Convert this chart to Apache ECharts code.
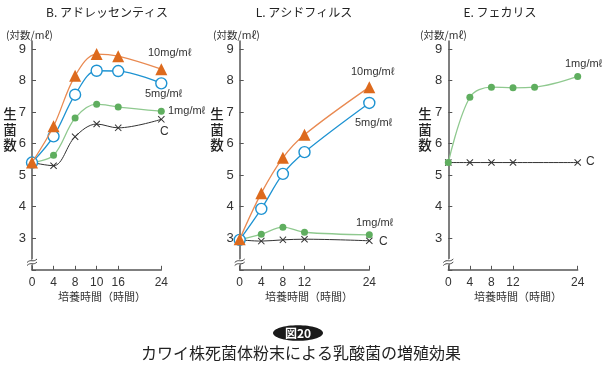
<!DOCTYPE html>
<html><head><meta charset="utf-8">
<script src="https://cdn.jsdelivr.net/npm/echarts@6/dist/echarts.min.js"></script>
<style>html,body{margin:0;padding:0;background:#fff}#c{width:610px;height:376px}</style>
</head><body><div id="c"></div>
<script>
// ---- data ----
const hoursB = [0, 4, 8, 12, 16, 24];
const tickValsB = [0, 4, 8, 12, 16, 24];
const tickLabsB = ['0', '4', '8', '10', '16', '24'];
const B10 = [5.4, 6.55, 8.15, 8.84, 8.77, 8.36];
const B5  = [5.4, 6.23, 7.55, 8.31, 8.30, 7.91];
const B1  = [5.4, 5.63, 6.81, 7.25, 7.16, 7.03];
const BC  = [5.4, 5.30, 6.22, 6.62, 6.50, 6.77];

const hoursL = [0, 4, 8, 12, 24];
const tickValsL = [0, 4, 8, 12, 24];
const tickLabsL = ['0', '4', '8', '12', '24'];
const L10 = [2.97, 4.43, 5.55, 6.28, 7.79];
const L5  = [2.95, 3.93, 5.04, 5.73, 7.29];
const L1  = [2.95, 3.13, 3.35, 3.19, 3.11];
const LC  = [2.95, 2.91, 2.95, 2.97, 2.92];

const hoursE1 = [0, 4, 8, 12, 16, 24];
const E1 = [5.4, 7.47, 7.79, 7.77, 7.79, 8.13];
const hoursEC = [0, 4, 8, 12, 24];
const EC = [5.4, 5.4, 5.4, 5.4, 5.4];
const tickValsE = [0, 4, 8, 12, 24];
const tickLabsE = ['0', '4', '8', '12', '24'];

const titles = ['B. アドレッセンティス', 'L. アシドフィルス', 'E. フェカリス'];

// ---- styles ----
const JP = '"Noto Sans CJK JP", sans-serif';
const NUM = '"Liberation Sans", Arial, sans-serif';
const ORANGE = '#dd6a1d', ORANGE_L = '#e98a52', BLUE = '#1e93d2', GREEN = '#5fae5f', GREEN_L = '#8fc98f', BLACK = '#333';
const crossPath = 'path://M0,1L1,0L5,4L9,0L10,1L6,5L10,9L9,10L5,6L1,10L0,9L4,5Z';

const grids = [
  { left: 32, top: 41.1, width: 129.3, height: 228.7 },
  { left: 239.7, top: 41.1, width: 129.6, height: 228.7 },
  { left: 448.3, top: 41.1, width: 129.4, height: 228.7 }
];
const tickSets = [[tickValsB, tickLabsB], [tickValsL, tickLabsL], [tickValsE, tickLabsE]];

const xAxes = tickSets.map((t, i) => ({
  type: 'value', gridIndex: i, min: 0, max: 24,
  axisLine: { lineStyle: { color: '#555', width: 1.5 } },
  axisTick: { inside: true, length: 4, customValues: t[0], lineStyle: { color: '#555' } },
  axisLabel: { customValues: t[0], margin: 7, fontSize: 12, color: '#333', fontFamily: NUM,
    formatter: v => { const k = t[0].indexOf(v); return k >= 0 ? t[1][k] : ''; } },
  splitLine: { show: false }
}));
const yAxes = [0, 1, 2].map(i => ({
  type: 'value', gridIndex: i, min: 2, max: 9.25, interval: 1,
  axisLine: { show: true, lineStyle: { color: '#555', width: 1.5 } },
  axisTick: { show: true, inside: true, length: 4, lineStyle: { color: '#555' } },
  axisLabel: { margin: 6, fontSize: 13, color: '#333', fontFamily: NUM, showMaxLabel: false,
    formatter: v => (v >= 3 && v <= 9 && Number.isInteger(v)) ? String(v) : '' },
  splitLine: { show: false }
}));

function pairs(xs, ys) { return xs.map((x, k) => [x, ys[k]]); }
function sC(i, xs, ys) {
  return { type: 'line', xAxisIndex: i, yAxisIndex: i, data: pairs(xs, ys), smooth: 0.35,
    symbol: crossPath, symbolSize: 7, itemStyle: { color: BLACK }, lineStyle: { color: BLACK, width: 1 }, z: 2 };
}
function s1(i, xs, ys) {
  return { type: 'line', xAxisIndex: i, yAxisIndex: i, data: pairs(xs, ys), smooth: 0.35,
    symbol: 'circle', symbolSize: 7, itemStyle: { color: GREEN }, lineStyle: { color: GREEN_L, width: 1.3 }, z: 3 };
}
function s5(i, xs, ys) {
  return { type: 'line', xAxisIndex: i, yAxisIndex: i, data: pairs(xs, ys), smooth: 0.35,
    symbol: 'circle', symbolSize: 11, itemStyle: { color: '#fff', borderColor: BLUE, borderWidth: 1.4 },
    lineStyle: { color: BLUE, width: 1.3 }, z: 4 };
}
function s10(i, xs, ys) {
  return { type: 'line', xAxisIndex: i, yAxisIndex: i, data: pairs(xs, ys), smooth: 0.35,
    symbol: 'triangle', symbolSize: 12, itemStyle: { color: ORANGE }, lineStyle: { color: ORANGE_L, width: 1.3 }, z: 5 };
}

const series = [
  sC(0, hoursB, BC), s1(0, hoursB, B1), s5(0, hoursB, B5), s10(0, hoursB, B10),
  sC(1, hoursL, LC), s1(1, hoursL, L1), s5(1, hoursL, L5), s10(1, hoursL, L10),
  sC(2, hoursEC, EC), s1(2, hoursE1, E1)
];

function txt(x, y, s, opt) {
  return Object.assign({ type: 'text', x: x, y: y, style: Object.assign({ text: s, fill: '#333', fontSize: 11, fontFamily: NUM,
    textAlign: 'left', textVerticalAlign: 'middle' }, opt || {}) });
}
function breakMark(x, y) {
  return { type: 'group', children: [
    { type: 'rect', shape: { x: x - 5, y: y - 2.2, width: 10, height: 4.4 }, style: { fill: '#fff' }, rotation: 0.45, originX: x, originY: y, z: 50 },
    { type: 'bezierCurve', shape: { x1: x - 5, y1: y + 0.5, cpx1: x - 1, cpy1: y - 3.5, cpx2: x + 1, cpy2: y + 1, x2: x + 5, y2: y - 3 }, style: { stroke: '#444', lineWidth: 1, fill: null }, z: 51 },
    { type: 'bezierCurve', shape: { x1: x - 5, y1: y + 3.5, cpx1: x - 1, cpy1: y - 0.5, cpx2: x + 1, cpy2: y + 4, x2: x + 5, y2: y } , style: { stroke: '#444', lineWidth: 1, fill: null }, z: 51 }
  ]};
}

const graphic = [];
const titleX = [107, 304, 500];
const unitX = [6, 213, 420];
const vertX = [10, 217, 425];
const nameX = [102, 309, 518];
for (let i = 0; i < 3; i++) {
  graphic.push(txt(titleX[i], 12, titles[i], { fontSize: 12, fontFamily: JP, textAlign: 'center', fill: '#222' }));
  graphic.push(txt(unitX[i], 35, '(対数/mℓ)', { fontSize: 10.5, fontFamily: JP }));
  ['生', '菌', '数'].forEach((c, k) => graphic.push(txt(vertX[i], 114 + k * 15.5, c, { fontSize: 13.5, fontFamily: JP, textAlign: 'center', fontWeight: 500, fill: '#222' })));
  graphic.push(txt(nameX[i], 297, '培養時間（時間）', { fontSize: 11, fontFamily: JP, textAlign: 'center' }));
  graphic.push(breakMark(grids[i].left, 262));
}
// series labels
graphic.push(txt(148, 53, '10mg/mℓ'));
graphic.push(txt(145, 94, '5mg/mℓ'));
graphic.push(txt(168, 111, '1mg/mℓ'));
graphic.push(txt(160, 132, 'C', { fontSize: 12 }));
graphic.push(txt(351, 72, '10mg/mℓ'));
graphic.push(txt(355, 123, '5mg/mℓ'));
graphic.push(txt(356, 223, '1mg/mℓ'));
graphic.push(txt(379, 242, 'C', { fontSize: 12 }));
graphic.push(txt(565, 64, '1mg/mℓ'));
graphic.push(txt(586, 162, 'C', { fontSize: 12 }));
// figure badge and caption
graphic.push({ type: 'ellipse', shape: { cx: 298, cy: 333, rx: 25, ry: 7.8 }, style: { fill: '#1a1a1a' } });
graphic.push(txt(298, 333.5, '図20', { fontSize: 12, fontFamily: JP, fontWeight: 'bold', fill: '#fff', textAlign: 'center' }));
graphic.push(txt(301, 353, 'カワイ株死菌体粉末による乳酸菌の増殖効果', { fontSize: 16, fontFamily: JP, textAlign: 'center', fill: '#222' }));

const chart = echarts.init(document.getElementById('c'), null, { renderer: 'canvas' });
chart.setOption({
  animation: false,
  backgroundColor: '#fff',
  grid: grids,
  xAxis: xAxes,
  yAxis: yAxes,
  series: series,
  graphic: graphic
});
</script></body></html>
